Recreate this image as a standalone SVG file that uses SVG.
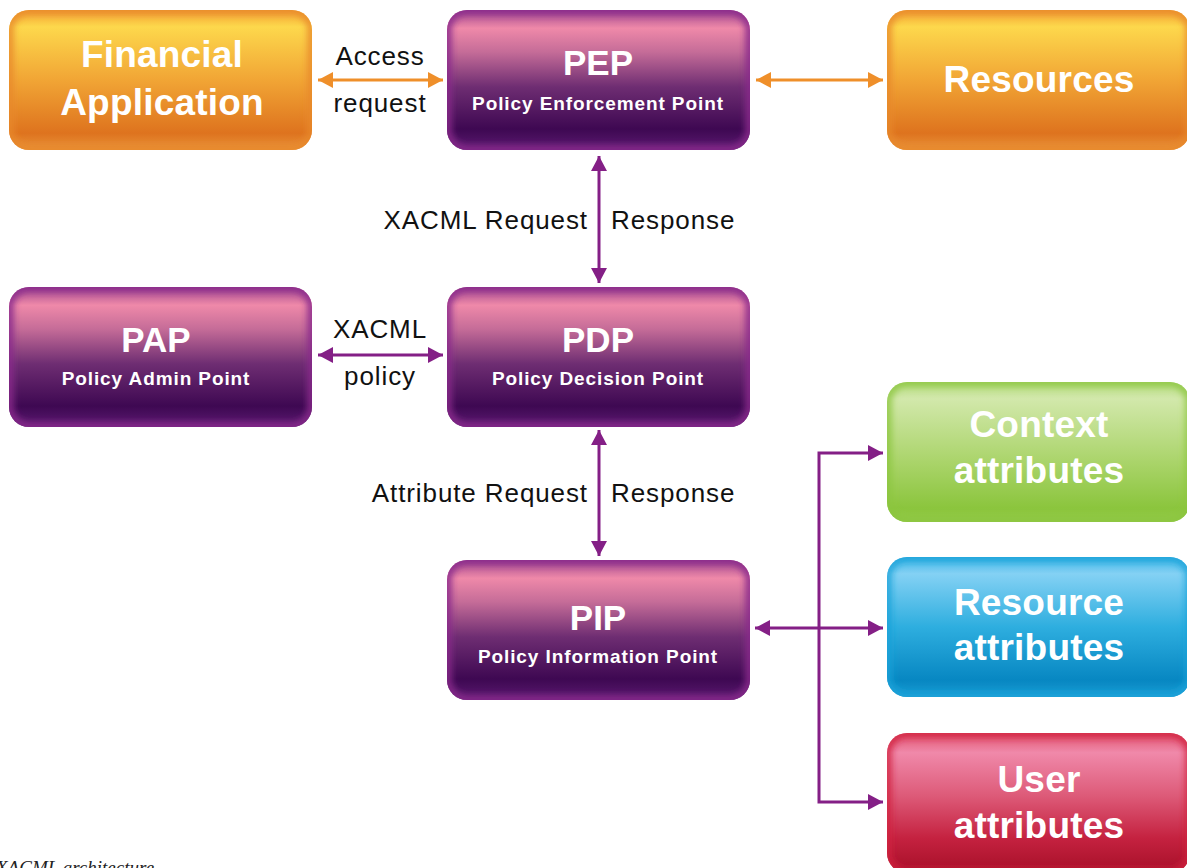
<svg xmlns="http://www.w3.org/2000/svg" xmlns:xlink="http://www.w3.org/1999/xlink" width="1187" height="868" viewBox="0 0 1187 868">
  <defs>
    <style>
      .title { font-family: "Liberation Sans", Arial, sans-serif; font-weight: bold; fill: #ffffff; text-anchor: middle; }
      .big { font-size: 37px; letter-spacing: 0.2px; }
      .abbr { font-size: 35px; }
      .sub { font-size: 19px; letter-spacing: 0.9px; }
      .lbl { font-family: "Liberation Sans", Arial, sans-serif; font-size: 26px; fill: #111111; letter-spacing: 0.9px; }
      .mid { text-anchor: middle; }
      .end { text-anchor: end; }
      .caption { font-family: "Liberation Serif", "Times New Roman", serif; font-style: italic; font-size: 19px; fill: #222222; }
      .orange-line { stroke: #ef8f2a; stroke-width: 3; fill: none; }
      .purple-line { stroke: #841f86; stroke-width: 3; fill: none; }
      .edge { fill: none; stroke-width: 10; filter: url(#soft); }
    </style>

    <!-- shared box outline, local coordinates -->
    <rect id="shape" x="0" y="0" width="303" height="140" rx="20" ry="20"/>
    <clipPath id="clip" clipPathUnits="userSpaceOnUse">
      <use xlink:href="#shape"/>
    </clipPath>
    <filter id="soft" x="-10%" y="-10%" width="120%" height="120%">
      <feGaussianBlur stdDeviation="3"/>
    </filter>

    <linearGradient id="gOrange" x1="0" y1="0" x2="0" y2="1">
      <stop offset="0" stop-color="#f3a234"/>
      <stop offset="0.12" stop-color="#fdd84c"/>
      <stop offset="0.5" stop-color="#f1a535"/>
      <stop offset="0.88" stop-color="#de731e"/>
      <stop offset="1" stop-color="#e8923a"/>
    </linearGradient>
    <linearGradient id="gPurple" x1="0" y1="0" x2="0" y2="1">
      <stop offset="0" stop-color="#a0468e"/>
      <stop offset="0.13" stop-color="#ef89a9"/>
      <stop offset="0.3" stop-color="#c56c98"/>
      <stop offset="0.55" stop-color="#6e2d72"/>
      <stop offset="0.85" stop-color="#3e0852"/>
      <stop offset="1" stop-color="#5a1a70"/>
    </linearGradient>
    <linearGradient id="gGreen" x1="0" y1="0" x2="0" y2="1">
      <stop offset="0" stop-color="#b6dc82"/>
      <stop offset="0.12" stop-color="#d2e8ab"/>
      <stop offset="0.55" stop-color="#acd56d"/>
      <stop offset="0.9" stop-color="#8bc53d"/>
      <stop offset="1" stop-color="#93ca48"/>
    </linearGradient>
    <linearGradient id="gBlue" x1="0" y1="0" x2="0" y2="1">
      <stop offset="0" stop-color="#3fb6e6"/>
      <stop offset="0.12" stop-color="#84d1f4"/>
      <stop offset="0.5" stop-color="#2eaedf"/>
      <stop offset="0.88" stop-color="#0787c2"/>
      <stop offset="1" stop-color="#1a9bd2"/>
    </linearGradient>
    <linearGradient id="gRed" x1="0" y1="0" x2="0" y2="1">
      <stop offset="0" stop-color="#e0526e"/>
      <stop offset="0.14" stop-color="#f089aa"/>
      <stop offset="0.45" stop-color="#dd5a78"/>
      <stop offset="0.75" stop-color="#c52240"/>
      <stop offset="1" stop-color="#a60f28"/>
    </linearGradient>

    <marker id="arrOrange" markerUnits="userSpaceOnUse" markerWidth="16" markerHeight="16" refX="15" refY="8" orient="auto-start-reverse">
      <path d="M0,0 L15,8 L0,16 z" fill="#ef8f2a"/>
    </marker>
    <marker id="arrPurple" markerUnits="userSpaceOnUse" markerWidth="16" markerHeight="16" refX="15" refY="8" orient="auto-start-reverse">
      <path d="M0,0 L15,8 L0,16 z" fill="#841f86"/>
    </marker>
  </defs>

  <rect width="1187" height="868" fill="#ffffff"/>

  <!-- connectors -->
  <g id="connectors">
    <line class="orange-line" x1="318" y1="80" x2="443" y2="80" marker-start="url(#arrOrange)" marker-end="url(#arrOrange)"/>
    <line class="orange-line" x1="756" y1="80" x2="883" y2="80" marker-start="url(#arrOrange)" marker-end="url(#arrOrange)"/>
    <line class="purple-line" x1="599" y1="156" x2="599" y2="283" marker-start="url(#arrPurple)" marker-end="url(#arrPurple)"/>
    <line class="purple-line" x1="318" y1="355" x2="443" y2="355" marker-start="url(#arrPurple)" marker-end="url(#arrPurple)"/>
    <line class="purple-line" x1="599" y1="430" x2="599" y2="556" marker-start="url(#arrPurple)" marker-end="url(#arrPurple)"/>
    <line class="purple-line" x1="755" y1="628" x2="883" y2="628" marker-start="url(#arrPurple)" marker-end="url(#arrPurple)"/>
    <polyline class="purple-line" points="883,453 819,453 819,802 883,802" marker-start="url(#arrPurple)" marker-end="url(#arrPurple)"/>

    <text class="lbl mid" x="380" y="65">Access</text>
    <text class="lbl mid" x="380" y="112">request</text>
    <text class="lbl end" x="588" y="229">XACML Request</text>
    <text class="lbl" x="611" y="229">Response</text>
    <text class="lbl mid" x="380" y="338">XACML</text>
    <text class="lbl mid" x="380" y="385">policy</text>
    <text class="lbl end" x="588" y="502">Attribute Request</text>
    <text class="lbl" x="611" y="502">Response</text>
  </g>

  <!-- nodes -->
  <g id="financial-application" transform="translate(9,10)">
    <use xlink:href="#shape" fill="url(#gOrange)"/>
    <g clip-path="url(#clip)"><use xlink:href="#shape" class="edge" stroke="#e98a2c" stroke-opacity="0.8"/></g>
    <text class="title big" x="153" y="57">Financial</text>
    <text class="title big" x="153" y="105">Application</text>
  </g>

  <g id="pep" transform="translate(447,10)">
    <use xlink:href="#shape" fill="url(#gPurple)"/>
    <g clip-path="url(#clip)"><use xlink:href="#shape" class="edge" stroke="#8a2a8c" stroke-opacity="0.85"/></g>
    <text class="title abbr" x="151" y="65">PEP</text>
    <text class="title sub" x="151" y="100">Policy Enforcement Point</text>
  </g>

  <g id="resources" transform="translate(887,10)">
    <use xlink:href="#shape" fill="url(#gOrange)"/>
    <g clip-path="url(#clip)"><use xlink:href="#shape" class="edge" stroke="#e98a2c" stroke-opacity="0.8"/></g>
    <text class="title big" x="152" y="82">Resources</text>
  </g>

  <g id="pap" transform="translate(9,287)">
    <use xlink:href="#shape" fill="url(#gPurple)"/>
    <g clip-path="url(#clip)"><use xlink:href="#shape" class="edge" stroke="#8a2a8c" stroke-opacity="0.85"/></g>
    <text class="title abbr" x="147" y="65">PAP</text>
    <text class="title sub" x="147" y="98">Policy Admin Point</text>
  </g>

  <g id="pdp" transform="translate(447,287)">
    <use xlink:href="#shape" fill="url(#gPurple)"/>
    <g clip-path="url(#clip)"><use xlink:href="#shape" class="edge" stroke="#8a2a8c" stroke-opacity="0.85"/></g>
    <text class="title abbr" x="151" y="65">PDP</text>
    <text class="title sub" x="151" y="98">Policy Decision Point</text>
  </g>

  <g id="pip" transform="translate(447,560)">
    <use xlink:href="#shape" fill="url(#gPurple)"/>
    <g clip-path="url(#clip)"><use xlink:href="#shape" class="edge" stroke="#8a2a8c" stroke-opacity="0.85"/></g>
    <text class="title abbr" x="151" y="70">PIP</text>
    <text class="title sub" x="151" y="103">Policy Information Point</text>
  </g>

  <g id="context-attributes" transform="translate(887,382)">
    <use xlink:href="#shape" fill="url(#gGreen)"/>
    <g clip-path="url(#clip)"><use xlink:href="#shape" class="edge" stroke="#8cc63f" stroke-opacity="0.8"/></g>
    <text class="title big" x="152" y="55">Context</text>
    <text class="title big" x="152" y="101">attributes</text>
  </g>

  <g id="resource-attributes" transform="translate(887,557)">
    <use xlink:href="#shape" fill="url(#gBlue)"/>
    <g clip-path="url(#clip)"><use xlink:href="#shape" class="edge" stroke="#1aa3da" stroke-opacity="0.8"/></g>
    <text class="title big" x="152" y="58">Resource</text>
    <text class="title big" x="152" y="103">attributes</text>
  </g>

  <g id="user-attributes" transform="translate(887,733)">
    <use xlink:href="#shape" fill="url(#gRed)"/>
    <g clip-path="url(#clip)"><use xlink:href="#shape" class="edge" stroke="#d1213e" stroke-opacity="0.8"/></g>
    <text class="title big" x="152" y="59">User</text>
    <text class="title big" x="152" y="105">attributes</text>
  </g>

  <text class="caption" x="-4" y="874">XACML  architecture</text>
</svg>
